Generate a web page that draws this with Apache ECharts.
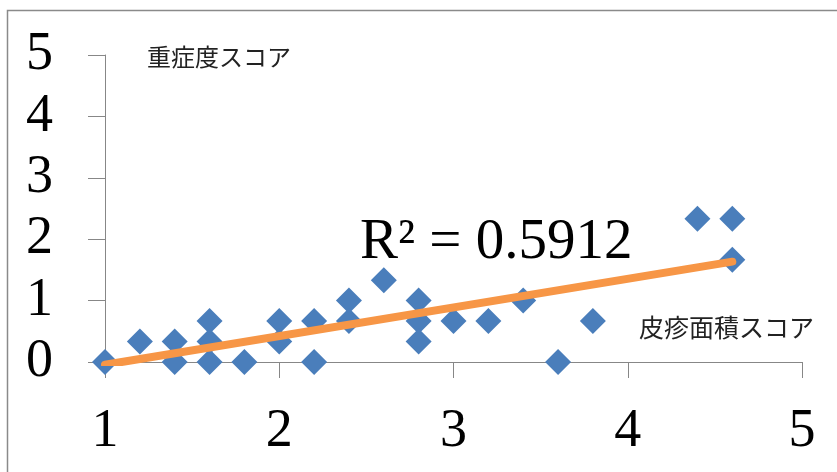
<!DOCTYPE html>
<html>
<head>
<meta charset="utf-8">
<script src="https://cdn.jsdelivr.net/npm/echarts@6/dist/echarts.min.js"></script>
<style>html,body{margin:0;padding:0;background:#fff;}#c{width:837px;height:472px;}</style>
</head>
<body>
<div id="c"></div>
<script>
// Data
const xValues = [1, 1.2, 1.4, 1.4, 1.6, 1.6, 1.6, 1.8, 2, 2, 2.2, 2.2, 2.4, 2.4, 2.6, 2.8, 2.8, 2.8, 3, 3.2, 3.4, 3.6, 3.8, 4.4, 4.6, 4.6];
const yValues = [0, 0.333, 0.333, 0, 0.667, 0.333, 0, 0, 0.667, 0.333, 0.667, 0, 1, 0.667, 1.333, 1, 0.667, 0.333, 0.667, 0.667, 1, 0, 0.667, 2.333, 2.333, 1.667];
const trendX = [1, 4.6];
const trendY = [-0.045, 1.634];
const xTicks = [1, 2, 3, 4, 5];
const yTicks = [0, 1, 2, 3, 4, 5];
const yTitle = '重症度スコア';
const xTitle = '皮疹面積スコア';
const r2Label = 'R² = 0.5912';

const points = xValues.map((x, i) => [x, yValues[i]]);
const trend = trendX.map((x, i) => [x, trendY[i]]);

const chart = echarts.init(document.getElementById('c'), null, {renderer: 'canvas'});
const serif = '"Liberation Serif", "DejaVu Serif", serif';
const cjk = '"Noto Sans CJK JP", sans-serif';
const axisGray = '#878787';

chart.setOption({
  animation: false,
  backgroundColor: '#fff',
  grid: {left: 105, top: 55, right: 35, bottom: 110, containLabel: false},
  xAxis: {
    type: 'value',
    min: xTicks[0], max: xTicks[xTicks.length - 1], interval: 1,
    axisLine: {show: true, lineStyle: {color: axisGray, width: 1}},
    axisTick: {show: true, length: 16, lineStyle: {color: axisGray, width: 1}},
    axisLabel: {margin: 43, fontFamily: serif, fontSize: 54, color: '#000'},
    splitLine: {show: false}
  },
  yAxis: {
    type: 'value',
    min: yTicks[0], max: yTicks[yTicks.length - 1], interval: 1,
    axisLine: {show: true, lineStyle: {color: axisGray, width: 1}},
    axisTick: {show: true, length: 17, lineStyle: {color: axisGray, width: 1}},
    axisLabel: {margin: 52, fontFamily: serif, fontSize: 54, color: '#000'},
    splitLine: {show: false}
  },
  series: [
    {
      type: 'scatter',
      data: points,
      symbol: 'diamond',
      symbolSize: 26,
      itemStyle: {color: '#4A7EBB', opacity: 1},
      z: 2
    },
    {
      type: 'line',
      data: trend,
      showSymbol: false,
      symbol: 'none',
      clip: true,
      lineStyle: {color: '#F79646', width: 8, cap: 'round', opacity: 1},
      z: 3
    }
  ],
  graphic: [
    {
      type: 'rect',
      shape: {x: 7.5, y: 10.5, width: 1000, height: 1000},
      style: {fill: null, stroke: '#8a8a8a', lineWidth: 1.5},
      silent: true
    },
    {
      type: 'text', x: 147, y: 57,
      style: {text: yTitle, font: '24px ' + cjk, fill: '#222', textVerticalAlign: 'middle', textAlign: 'left'}
    },
    {
      type: 'text', x: 639, y: 327,
      style: {text: xTitle, font: '25px ' + cjk, fill: '#222', textVerticalAlign: 'middle', textAlign: 'left'}
    },
    {
      type: 'text', x: 360, y: 243, z: 10,
      style: {text: r2Label, font: '57px ' + serif, fill: '#000', textVerticalAlign: 'middle', textAlign: 'left'}
    }
  ]
});
</script>
</body>
</html>
